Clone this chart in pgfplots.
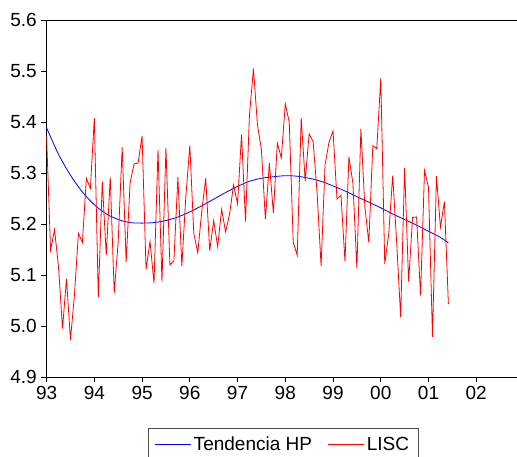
\documentclass[border=0pt]{standalone}
\usepackage{fontspec}
\setmainfont{Liberation Sans}
\usepackage{pgfplots}
\pgfplotsset{compat=1.18}
\usepackage{pgfplotstable}

\pgfplotstableread{
i v
0 5.371
1 5.149
2 5.189
3 5.116
4 4.995
5 5.093
6 4.973
7 5.061
8 5.182
9 5.164
10 5.290
11 5.270
12 5.408
13 5.056
14 5.284
15 5.139
16 5.292
17 5.065
18 5.166
19 5.351
20 5.126
21 5.282
22 5.318
23 5.320
24 5.373
25 5.111
26 5.166
27 5.084
28 5.346
29 5.087
30 5.349
31 5.120
32 5.128
33 5.292
34 5.118
35 5.254
36 5.354
37 5.182
38 5.144
39 5.225
40 5.290
41 5.148
42 5.207
43 5.156
44 5.229
45 5.185
46 5.220
47 5.277
48 5.240
49 5.376
50 5.205
51 5.415
52 5.505
53 5.395
54 5.346
55 5.210
56 5.320
57 5.222
58 5.359
59 5.330
60 5.436
61 5.400
62 5.164
63 5.139
64 5.408
65 5.285
66 5.377
67 5.362
68 5.261
69 5.118
70 5.317
71 5.361
72 5.383
73 5.249
74 5.257
75 5.127
76 5.332
77 5.280
78 5.113
79 5.387
80 5.234
81 5.164
82 5.354
83 5.348
84 5.487
85 5.122
86 5.181
87 5.295
88 5.164
89 5.018
90 5.310
91 5.087
92 5.213
93 5.214
94 5.060
95 5.305
96 5.272
97 4.979
98 5.294
99 5.194
100 5.244
101 5.043
}\lisc

\pgfplotstableread{
i v
0 5.389
3 5.337
6 5.296
9 5.263
12 5.238
15 5.220
18 5.209
21 5.203
24 5.202
27 5.203
30 5.207
33 5.214
36 5.224
39 5.236
42 5.249
45 5.262
48 5.274
51 5.284
54 5.290
57 5.293
60 5.295
63 5.294
66 5.290
69 5.284
72 5.275
75 5.265
78 5.254
81 5.243
84 5.232
87 5.220
90 5.209
93 5.198
96 5.186
99 5.174
101 5.163
}\trend

\begin{document}
\begin{tikzpicture}
\begin{axis}[
  scale only axis,
  width=474pt, height=356.7pt,
  xmin=-0.15, xmax=119,
  ymin=4.9, ymax=5.6,
  xtick={0,12,...,108},
  xticklabels={93,94,95,96,97,98,99,00,01,02},
  ytick={4.9,5.0,...,5.6},
  /pgf/number format/fixed,
  /pgf/number format/fixed zerofill,
  /pgf/number format/precision=1,
  /pgf/number format/assume math mode=true,
  tick align=outside,
  xtick pos=bottom, ytick pos=left,
  major tick length=5pt,
  tick style={black, line width=0.7pt},
  axis line style={black, line width=0.8pt},
  ticklabel style={font=\fontsize{19}{22}\selectfont},
  xticklabel style={inner sep=1pt, yshift=-3pt},
  yticklabel style={inner sep=1pt, xshift=-3pt},
  legend columns=2,
  legend style={at={(0.5,-0.142)}, anchor=north, font=\fontsize{19}{22}\selectfont,
    draw=black!70, line width=0.6pt, inner xsep=7pt, inner ysep=7pt,
    /tikz/every even column/.append style={column sep=14pt}},
  legend image code/.code={\draw[#1] (0pt,0pt) -- (36pt,0pt);},
]
\addplot[blue, line width=0.8pt, smooth, tension=0.5] table[x=i, y=v] {\trend};
\addlegendentry{Tendencia HP}
\addplot[red, line width=0.8pt] table[x=i, y=v] {\lisc};
\addlegendentry{LISC}
\coordinate (sw) at (rel axis cs:0,0);
\end{axis}
\pgfresetboundingbox
\path (sw) ++(-46pt,-80pt) rectangle ++(517pt,457pt);
\end{tikzpicture}
\end{document}
